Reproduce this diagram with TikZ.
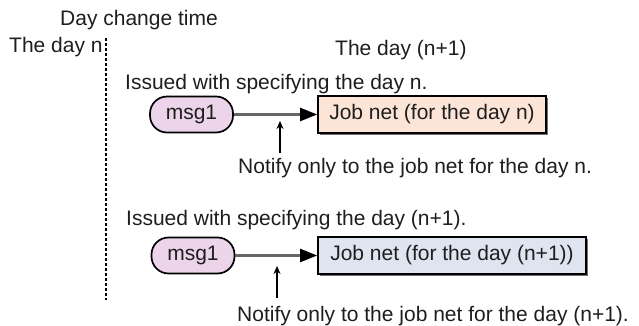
\documentclass[tikz,border=0pt]{standalone}
\usepackage{fontspec}
\setmainfont{Liberation Sans}
\usetikzlibrary{arrows.meta,shadows}
\definecolor{msgfill}{RGB}{236,212,234}
\definecolor{jobA}{RGB}{252,229,215}
\definecolor{jobB}{RGB}{223,228,241}
\definecolor{txt}{RGB}{30,30,30}
\begin{document}
\begin{tikzpicture}[x=1pt,y=-1pt,
  lbl/.style={anchor=base west,inner sep=0pt,text=txt,font=\fontsize{21}{24}\selectfont},
  msgbox/.style={draw=black,line width=1.7pt,fill=msgfill,rounded corners=17pt,
     minimum width=83pt,minimum height=36pt,inner sep=0pt,text=txt,font=\fontsize{21}{24}\selectfont},
  jobbox/.style={draw=black,line width=1.7pt,minimum height=37pt,inner sep=0pt,text=txt,
     font=\fontsize{21}{24}\selectfont,
     drop shadow={shadow xshift=2.2pt,shadow yshift=-2.2pt,fill=black!55,opacity=1}},
  flow/.style={draw=black!60,line width=2.4pt,-{Triangle[length=17pt,width=13pt,color=black]}},
  note/.style={draw=black,line width=1.4pt,-{Stealth[length=8pt,width=7pt]}},
  divider/.style={draw=black,line width=1.3pt,dash pattern=on 3pt off 2pt}]
\useasboundingbox (0,0) rectangle (639,326);
% labels
\node[lbl] (dct) at (60,26) {Day change time};
\node[lbl] (dn) at (9,53) {The day n};
\node[lbl] (dnp) at (335,56) {The day (n+1)};
\node[lbl] (iss1) at (125,90) {Issued with specifying the day n.};
\node[lbl] (iss2) at (126,225) {Issued with specifying the day (n+1).};
\node[lbl] (not1) at (238,173) {Notify only to the job net for the day n.};
\node[lbl] (not2) at (237,321) {Notify only to the job net for the day (n+1).};
% divider
\coordinate (dtop) at (106,38);
\coordinate (dbot) at (106,300);
\draw[divider] (dtop) -- (dbot);
% row 1
\node[msgbox] (m1) at (191.5,114.5) {msg1};
\node[jobbox,fill=jobA,minimum width=228pt] (j1) at (432,114.5) {Job net (for the day n)};
\draw[flow] (m1.east) -- (j1.west);
\coordinate (u1b) at (280,153);
\coordinate (u1t) at (280,121);
\draw[note] (u1b) -- (u1t);
% row 2
\node[msgbox] (m2) at (193,255.5) {msg1};
\node[jobbox,fill=jobB,minimum width=268pt] (j2) at (452,255.5) {Job net (for the day (n+1))};
\draw[flow] (m2.east) -- (j2.west);
\coordinate (u2b) at (277,298);
\coordinate (u2t) at (277,266);
\draw[note] (u2b) -- (u2t);
\end{tikzpicture}
\end{document}
